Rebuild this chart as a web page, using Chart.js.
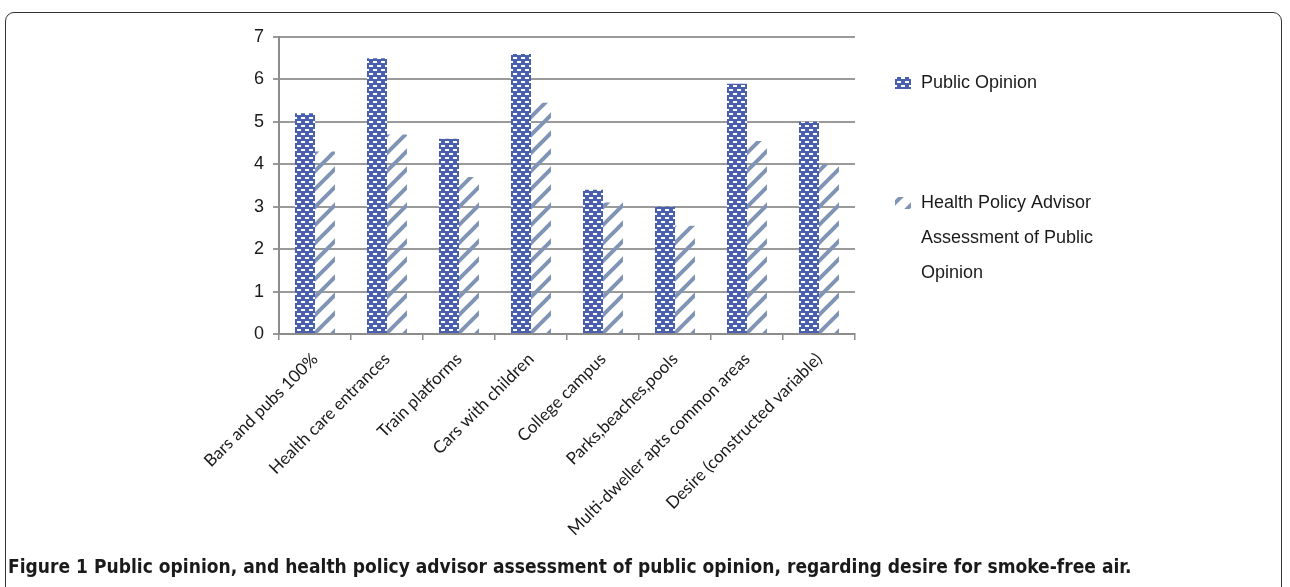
<!DOCTYPE html>
<html>
<head>
<meta charset="utf-8">
<script src="https://cdn.jsdelivr.net/npm/chart.js@4.4.1/dist/chart.umd.min.js"></script>
<style>
  html, body { margin: 0; padding: 0; background: #fff; }
  #wrap { position: relative; width: 1290px; height: 587px; overflow: hidden; }
  #frame {
    position: absolute; left: 5px; top: 12px; width: 1277px; height: 640px;
    border: 1.5px solid #333; border-radius: 9px; box-sizing: border-box;
  }
  #chart { position: absolute; left: 0; top: 0; }
  #caption {
    position: absolute; left: 8px; top: 555px;
    font-family: "DejaVu Sans Condensed", "DejaVu Sans", sans-serif;
    font-weight: bold; font-size: 19px; color: #1a1a1a; white-space: nowrap;
    letter-spacing: 0.02px;
  }
</style>
</head>
<body>
<div id="wrap">
  <div id="frame"></div>
  <canvas id="chart" width="1290" height="587"></canvas>
  <div id="caption">Figure 1 Public opinion, and health policy advisor assessment of public opinion, regarding desire for smoke-free air.</div>
</div>
<script>
const categories = [
  "Bars and pubs 100%",
  "Health care entrances",
  "Train platforms",
  "Cars with children",
  "College campus",
  "Parks,beaches,pools",
  "Multi-dweller apts common areas",
  "Desire (constructed variable)"
];
const publicOpinion = [5.2, 6.5, 4.6, 6.6, 3.4, 3.0, 5.9, 5.0];
const advisorAssessment = [4.3, 4.7, 3.7, 5.45, 3.1, 2.55, 4.55, 4.0];
const seriesNames = ["Public Opinion", ["Health Policy Advisor", "Assessment of Public", "Opinion"]];
const yTicks = [0, 1, 2, 3, 4, 5, 6, 7];

const BLUE = "#4a5fae";
const STRIPE = "#8094b6";

// blue fill with small white dashes (brick pattern)
function dotPattern() {
  const c = document.createElement("canvas");
  c.width = 8; c.height = 8;
  const g = c.getContext("2d");
  g.fillStyle = BLUE;
  g.fillRect(0, 0, 8, 8);
  g.fillStyle = "#fff";
  g.fillRect(1, 1, 4, 2);
  g.fillRect(5, 5, 4, 2);
  g.fillRect(-3, 5, 4, 2);
  return g.createPattern(c, "repeat");
}

// wide upward diagonal stripes
function stripePattern() {
  const c = document.createElement("canvas");
  c.width = 18; c.height = 18;
  const g = c.getContext("2d");
  g.strokeStyle = STRIPE;
  g.lineWidth = 4;
  g.beginPath();
  g.moveTo(-9, 27); g.lineTo(27, -9);
  g.moveTo(-9, 9); g.lineTo(9, -9);
  g.moveTo(9, 27); g.lineTo(27, 9);
  g.stroke();
  return g.createPattern(c, "repeat");
}

const pats = [dotPattern(), stripePattern()];

// legend drawn on the right, like the original
const sideLegend = {
  id: "sideLegend",
  afterDraw(chart) {
    const ctx = chart.ctx;
    ctx.save();
    ctx.font = "18px 'Liberation Sans', Arial, sans-serif";
    ctx.textBaseline = "middle";
    const x0 = 895;
    const tops = [83, 203];
    seriesNames.forEach((name, i) => {
      ctx.fillStyle = pats[i];
      ctx.fillRect(x0, tops[i] - 6, 16, 12);
      ctx.fillStyle = "#1a1a1a";
      const lines = Array.isArray(name) ? name : [name];
      lines.forEach((t, j) => ctx.fillText(t, x0 + 26, tops[i] + j * 35));
    });
    ctx.restore();
  }
};

new Chart(document.getElementById("chart"), {
  type: "bar",
  data: {
    labels: categories,
    datasets: [
      { label: "Public Opinion", data: publicOpinion, backgroundColor: pats[0] },
      { label: "Health Policy Advisor Assessment of Public Opinion", data: advisorAssessment, backgroundColor: pats[1] }
    ]
  },
  options: {
    responsive: false,
    animation: false,
    layout: { padding: { left: 200, top: 37, right: 435, bottom: 40 } },
    datasets: { bar: { categoryPercentage: 0.556, barPercentage: 1.0 } },
    plugins: { legend: { display: false }, tooltip: { enabled: false } },
    scales: {
      x: {
        grid: { display: true, drawOnChartArea: false, offset: true, tickLength: 6, color: "#8c8c8c", lineWidth: 1.5 },
        border: { color: "#8c8c8c", width: 2 },
        ticks: {
          autoSkip: false, minRotation: 45, maxRotation: 45, padding: 9,
          color: "#1a1a1a",
          font: { family: "Lato, 'Open Sans', sans-serif", size: 17 }
        },
        afterFit: s => { s.height = 213; }
      },
      y: {
        min: 0, max: 7,
        afterBuildTicks: s => { s.ticks = yTicks.map(v => ({ value: v })); },
        grid: { color: "#9a9a9a", lineWidth: 2, tickLength: 6 },
        border: { color: "#8c8c8c", width: 2 },
        ticks: {
          padding: 9, color: "#1a1a1a",
          font: { family: "'Liberation Sans', Arial, sans-serif", size: 18 }
        },
        afterFit: s => { s.width = 79; }
      }
    }
  },
  plugins: [sideLegend]
});
</script>
</body>
</html>
